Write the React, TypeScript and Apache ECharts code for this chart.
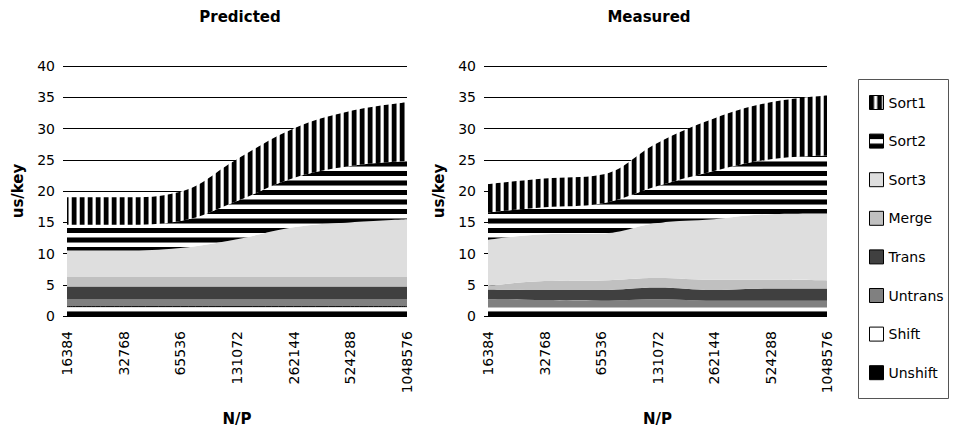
import * as React from "react";
import * as echarts from "echarts";

const categories = ["16384", "32768", "65536", "131072", "262144", "524288", "1048576"];
const legendOrder = ["Sort1", "Sort2", "Sort3", "Merge", "Trans", "Untrans", "Shift", "Unshift"];
const yMin = 0;
const yMax = 40;
const yStep = 5;

// Predicted (per-component us/key, stacked bottom to top)
const predictedUnshift = [0.75, 0.75, 0.75, 0.75, 0.75, 0.75, 0.75];
const predictedShift = [0.75, 0.75, 0.75, 0.75, 0.75, 0.75, 0.75];
const predictedUntrans = [1.15, 1.15, 1.15, 1.15, 1.15, 1.15, 1.15];
const predictedTrans = [2.07, 2.07, 2.07, 2.07, 2.07, 2.07, 2.07];
const predictedMerge = [1.53, 1.53, 1.53, 1.53, 1.53, 1.53, 1.53];
const predictedSort3 = [4.25, 4.25, 4.65, 6.05, 7.95, 8.75, 9.25];
const predictedSort2 = [4.1, 4.1, 4.3, 6.1, 7.9, 9.0, 9.3];
const predictedSort1 = [4.4, 4.4, 4.7, 6.7, 7.9, 8.8, 9.4];

// Measured
const measuredUnshift = [0.75, 0.75, 0.75, 0.75, 0.75, 0.75, 0.75];
const measuredShift = [0.63, 0.63, 0.63, 0.63, 0.63, 0.63, 0.63];
const measuredUntrans = [1.32, 1.17, 1.07, 1.32, 1.07, 1.07, 1.07];
const measuredTrans = [1.55, 1.6, 1.7, 1.85, 1.7, 1.95, 1.95];
const measuredMerge = [0.55, 1.45, 1.55, 1.55, 1.65, 1.4, 1.3];
const measuredSort3 = [7.4, 7.5, 7.5, 8.8, 9.7, 10.5, 10.7];
const measuredSort2 = [4.4, 4.3, 4.8, 5.9, 7.7, 8.8, 9.3];
const measuredSort1 = [4.5, 4.6, 4.6, 6.9, 8.4, 9.1, 9.6];

const FONT = "DejaVu Sans";

function stripes(vertical: boolean) {
  const c = document.createElement("canvas");
  const ctx = c.getContext("2d")!;
  if (vertical) {
    c.width = 8;
    c.height = 8;
    ctx.fillStyle = "#fff";
    ctx.fillRect(0, 0, 8, 8);
    ctx.fillStyle = "#000";
    ctx.fillRect(0, 0, 4, 8);
    ctx.fillStyle = "#777";
    ctx.fillRect(4, 0, 1, 8);
    ctx.fillStyle = "#bbb";
    ctx.fillRect(7, 0, 1, 8);
  } else {
    c.width = 8;
    c.height = 19;
    ctx.fillStyle = "#fff";
    ctx.fillRect(0, 0, 8, 19);
    ctx.fillStyle = "#000";
    ctx.fillRect(0, 0, 8, 5);
    ctx.fillRect(0, 10, 8, 4);
    ctx.fillStyle = "#777";
    ctx.fillRect(0, 9, 8, 1);
    ctx.fillRect(0, 14, 8, 1);
  }
  return { image: c, repeat: "repeat", imageWidth: c.width, imageHeight: c.height } as any;
}

export default function App() {
  const elRef = React.useRef<HTMLDivElement | null>(null);

  React.useEffect(() => {
    if (!elRef.current) return;
    const chart = echarts.init(elRef.current, null, { renderer: "svg" });

    const vStripes = stripes(true);
    const hStripes = stripes(false);
    const colors: Record<string, any> = {
      Unshift: "#000000",
      Shift: "#ffffff",
      Untrans: "#808080",
      Trans: "#404040",
      Merge: "#c0c0c0",
      Sort3: "#dedede",
      Sort2: hStripes,
      Sort1: vStripes,
    };

    const panels = [
      {
        title: "Predicted",
        center: 235,
        left: 67,
        width: 340,
        data: {
          Unshift: predictedUnshift,
          Shift: predictedShift,
          Untrans: predictedUntrans,
          Trans: predictedTrans,
          Merge: predictedMerge,
          Sort3: predictedSort3,
          Sort2: predictedSort2,
          Sort1: predictedSort1,
        } as Record<string, number[]>,
      },
      {
        title: "Measured",
        center: 644,
        left: 488,
        width: 339,
        data: {
          Unshift: measuredUnshift,
          Shift: measuredShift,
          Untrans: measuredUntrans,
          Trans: measuredTrans,
          Merge: measuredMerge,
          Sort3: measuredSort3,
          Sort2: measuredSort2,
          Sort1: measuredSort1,
        } as Record<string, number[]>,
      },
    ];

    const stackOrder = [...legendOrder].reverse();

    const option: echarts.EChartsOption = {
      animation: false,
      backgroundColor: "#fff",
      title: panels.map(p => ({
        text: p.title,
        left: p.center,
        top: 4,
        textAlign: "center",
        textStyle: { fontFamily: FONT, fontSize: 15, fontWeight: "bold", color: "#000" },
      })) as any,
      grid: panels.map(p => ({ left: p.left, top: 66, width: p.width, height: 252 })),
      xAxis: panels.map((p, i) => ({
        type: "category",
        gridIndex: i,
        data: categories,
        boundaryGap: false,
        axisLine: { show: false },
        axisTick: { show: false },
        axisLabel: { rotate: 90, margin: 15, fontFamily: FONT, fontSize: 14, color: "#000" },
        name: "N/P",
        nameLocation: "middle",
        nameGap: 95,
        nameTextStyle: { fontFamily: FONT, fontSize: 15, fontWeight: "bold", color: "#000" },
      })) as any,
      yAxis: panels.map((p, i) => ({
        type: "value",
        gridIndex: i,
        min: yMin,
        max: yMax,
        interval: yStep,
        axisLine: { show: false },
        axisTick: { show: true, length: 4, lineStyle: { color: "#000" } },
        splitLine: { show: true, lineStyle: { color: "#000", width: 1 } },
        axisLabel: { margin: 12, fontFamily: FONT, fontSize: 14, color: "#000" },
        name: "us/key",
        nameLocation: "middle",
        nameGap: 42,
        nameTextStyle: { fontFamily: FONT, fontSize: 15, fontWeight: "bold", color: "#000" },
      })) as any,
      legend: {
        orient: "vertical",
        left: 864,
        top: 90,
        itemWidth: 14,
        itemHeight: 14,
        itemGap: 23.6,
        itemTextGap: 11,
        icon: "rect",
        textStyle: { fontFamily: FONT, fontSize: 14, color: "#000" },
        data: legendOrder.map(n => ({
          name: n,
          itemStyle: { color: colors[n], borderColor: "#000", borderWidth: 1 },
        })),
      },
      graphic: [
        {
          type: "rect",
          shape: { x: 858.5, y: 79.5, width: 90, height: 319 },
          style: { fill: "none", stroke: "#555", lineWidth: 1 },
        },
      ],
      series: panels.flatMap((p, i) =>
        stackOrder.map(n => ({
          type: "line",
          name: n,
          xAxisIndex: i,
          yAxisIndex: i,
          stack: "total" + i,
          data: p.data[n],
          smooth: 0.4,
          showSymbol: false,
          symbol: "none",
          itemStyle: { color: colors[n] },
          lineStyle:
            i === 0 && n === "Shift" ? { width: 1, color: "#000" } : { width: 0, color: "transparent" },
          areaStyle: { color: colors[n], opacity: 1 },
          emphasis: { disabled: true },
        }))
      ) as any,
    };

    chart.setOption(option);
    return () => chart.dispose();
  }, []);

  return (
    <div
      ref={elRef}
      style={{ position: "fixed", left: 0, top: 0, width: 953, height: 431, background: "#fff" }}
    />
  );
}
